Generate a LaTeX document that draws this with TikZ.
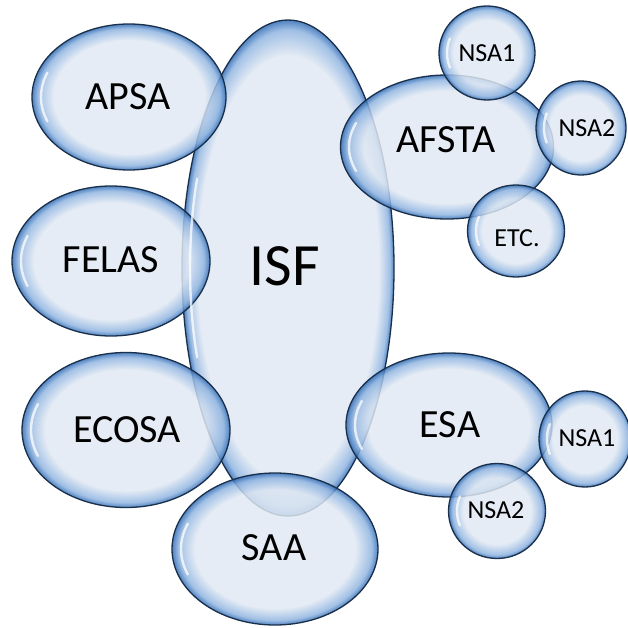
\documentclass[tikz,border=0pt]{standalone}
\usepackage{fontspec}
\setmainfont{Carlito}
\usetikzlibrary{shapes.geometric}
\definecolor{bin}{HTML}{E0E8F3}
\definecolor{bmid}{HTML}{8FB4E0}
\definecolor{bout}{HTML}{2F6BB5}
\definecolor{bline}{HTML}{1A2F4A}
\pgfdeclareradialshading{bubbleL}{\pgfpoint{0bp}{0bp}}{color(0bp)=(bin); color(19.5bp)=(bin); color(23.4bp)=(bmid); color(25bp)=(bout); color(50bp)=(bout)}
\pgfdeclareradialshading{bubbleS}{\pgfpoint{0bp}{0bp}}{color(0bp)=(bin); color(17.5bp)=(bin); color(23bp)=(bmid); color(25bp)=(bout); color(50bp)=(bout)}
\pgfdeclareradialshading{bubbleT}{\pgfpoint{0bp}{0bp}}{color(0bp)=(bin); color(21.4bp)=(bin); color(24bp)=(bmid); color(25bp)=(bout); color(50bp)=(bout)}
\newcommand\bubshine[3]{\draw[shine] (#1.center) ++(158:#2 and #3) arc[start angle=158, end angle=202, x radius=#2, y radius=#3];}
\begin{document}
\begin{tikzpicture}[x=1pt,y=-1pt,
  bub/.style={ellipse, draw=bline, line width=1.3pt, shading=bubbleL, fill opacity=0.84, inner sep=0pt},
  sbub/.style={bub, shading=bubbleS},
  tbub/.style={bub, shading=bubbleT},
  shine/.style={white, line width=2.4pt, line cap=round, opacity=0.75},
  big/.style={font=\fontsize{40}{48}\selectfont, inner sep=0pt},
  huge/.style={font=\fontsize{60}{72}\selectfont, inner sep=0pt},
  small/.style={font=\fontsize{26}{31}\selectfont, inner sep=0pt}]
\useasboundingbox (0,0) rectangle (627,628);
% shapes
\node[tbub, minimum width=212, minimum height=496] (isf) at (288,268) {};
\node[bub, minimum width=194, minimum height=146] (apsa) at (129,97) {};
\node[bub, minimum width=198, minimum height=150] (felas) at (111,261) {};
\node[bub, minimum width=208, minimum height=155] (ecosa) at (126,430) {};
\node[bub, minimum width=206, minimum height=152] (saa) at (275,549) {};
\node[bub, minimum width=213, minimum height=144] (afsta) at (447,147) {};
\node[sbub, minimum width=96, minimum height=94] (nsa1a) at (487,53) {};
\node[sbub, minimum width=90, minimum height=94] (nsa2a) at (581,128) {};
\node[sbub, minimum width=97, minimum height=92] (etc) at (516,231) {};
\node[bub, minimum width=206, minimum height=144] (esa) at (449,425) {};
\node[sbub, minimum width=92, minimum height=96] (nsa1b) at (585,439) {};
\node[sbub, minimum width=97, minimum height=95] (nsa2b) at (497,511) {};
% glossy highlights
\bubshine{isf}{98}{238}
\bubshine{apsa}{88}{65}
\bubshine{felas}{90}{67}
\bubshine{ecosa}{95}{69}
\bubshine{saa}{94}{68}
\bubshine{afsta}{98}{64}
\bubshine{nsa1a}{40}{39}
\bubshine{nsa2a}{37}{39}
\bubshine{etc}{40}{38}
\bubshine{esa}{94}{64}
\bubshine{nsa1b}{38}{40}
\bubshine{nsa2b}{40}{39}
% labels
\node[huge] (tisf) at (285,266) {ISF};
\node[big] (tapsa) at (128,97) {APSA};
\node[big] (tfelas) at (111,260) {FELAS};
\node[big] (tecosa) at (127,430) {ECOSA};
\node[big] (tsaa) at (274,548) {SAA};
\node[big] (tafsta) at (446,140) {AFSTA};
\node[big] (tesa) at (450,425) {ESA};
\node[small] (tnsa1a) at (487,53) {NSA1};
\node[small] (tnsa2a) at (587,128) {NSA2};
\node[small] (tetc) at (517,238) {ETC.};
\node[small] (tnsa1b) at (587,438) {NSA1};
\node[small] (tnsa2b) at (496,510) {NSA2};
\end{tikzpicture}
\end{document}
